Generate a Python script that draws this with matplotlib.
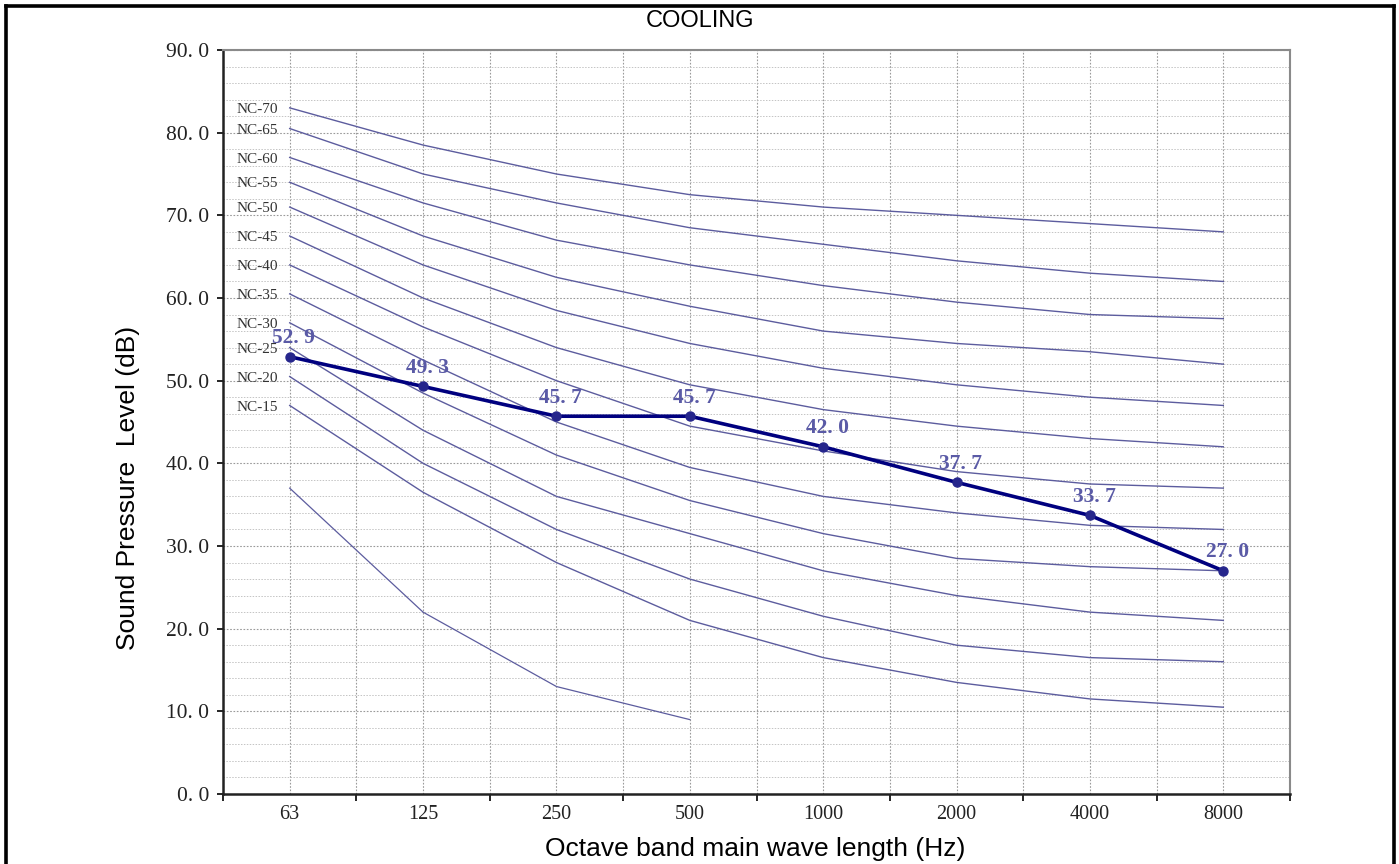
import matplotlib

matplotlib.use("Agg")
import matplotlib.pyplot as plt
import numpy as np
from matplotlib.lines import Line2D
from matplotlib.ticker import MultipleLocator, FixedLocator

# --- data ---------------------------------------------------------------
FREQS = ["63", "125", "250", "500", "1000", "2000", "4000", "8000"]
MEASURED = [52.9, 49.3, 45.7, 45.7, 42.0, 37.7, 33.7, 27.0]

NC_NAMES = ["NC-70", "NC-65", "NC-60", "NC-55", "NC-50", "NC-45",
            "NC-40", "NC-35", "NC-30", "NC-25", "NC-20", "NC-15"]
NC_70 = [83, 78.5, 75, 72.5, 71, 70, 69, 68]
NC_65 = [80.5, 75, 71.5, 68.5, 66.5, 64.5, 63, 62]
NC_60 = [77, 71.5, 67, 64, 61.5, 59.5, 58, 57.5]
NC_55 = [74, 67.5, 62.5, 59, 56, 54.5, 53.5, 52]
NC_50 = [71, 64, 58.5, 54.5, 51.5, 49.5, 48, 47]
NC_45 = [67.5, 60, 54, 49.5, 46.5, 44.5, 43, 42]
NC_40 = [64, 56.5, 50, 44.5, 41.5, 39, 37.5, 37]
NC_35 = [60.5, 52.5, 45, 39.5, 36, 34, 32.5, 32]
NC_30 = [57, 48.5, 41, 35.5, 31.5, 28.5, 27.5, 27]
NC_25 = [54, 44, 36, 31.5, 27, 24, 22, 21]
NC_20 = [50.5, 40, 32, 26, 21.5, 18, 16.5, 16]
NC_15 = [47, 36.5, 28, 21, 16.5, 13.5, 11.5, 10.5]
NC_CURVES = [NC_70, NC_65, NC_60, NC_55, NC_50, NC_45,
             NC_40, NC_35, NC_30, NC_25, NC_20, NC_15]
# unlabeled bottom curve, only drawn up to 500 Hz
NC_LOW = [37, 22, 13, 9]

# --- style --------------------------------------------------------------
NC_COLOR = "#5c5c9e"
DATA_COLOR = "#00007f"
LABEL_COLOR = "#5a5aa6"
GRID_C = "#9a9a9a"
SERIF = ["Liberation Serif", "DejaVu Serif"]
SANS = ["Liberation Sans", "DejaVu Sans"]

fig = plt.figure(figsize=(13.99, 8.64), dpi=100)
fig.patch.set_facecolor("white")
ax = fig.add_axes([223 / 1399, 1 - 794 / 864, (1290 - 223) / 1399, (794 - 50) / 864])

x = np.arange(len(FREQS))

for vals in NC_CURVES:
    ax.plot(x, vals, color=NC_COLOR, lw=1.0, zorder=2)
ax.plot(x[:len(NC_LOW)], NC_LOW, color=NC_COLOR, lw=0.9, zorder=2)

for name, vals in zip(NC_NAMES, NC_CURVES):
    ax.text(-0.09, vals[0] - 0.2, name, ha="right", va="center", fontsize=11,
            color="#333333", family=SERIF, zorder=3)

ax.plot(x, MEASURED, color=DATA_COLOR, lw=2.6, marker="o", ms=6.5,
        mfc="#26268c", mec="#26268c", zorder=4)
for xi, v in zip(x, MEASURED):
    ax.annotate(f"{v:.1f}".replace(".", ". "), (xi, v), xytext=(3, 6),
                textcoords="offset points", ha="center", va="bottom",
                fontsize=15.5, fontweight="bold", color=LABEL_COLOR,
                family=SERIF, zorder=5)

# axes, ticks, grid
ax.set_xlim(-0.5, len(FREQS) - 0.5)
ax.set_ylim(0, 90)
ax.set_xticks(x)
ax.set_xticklabels(FREQS, family=SERIF, fontsize=14.5, color="#222222")
ax.xaxis.set_minor_locator(FixedLocator(np.arange(-0.5, len(FREQS), 1.0)))
ax.yaxis.set_minor_locator(MultipleLocator(2))
yt = np.arange(0, 91, 10)
ax.set_yticks(yt)
ax.set_yticklabels([f"{v:.1f}".replace(".", ". ") for v in yt],
                   family=SERIF, fontsize=15.5, color="#222222")
ax.tick_params(axis="x", which="major", length=0, pad=8)
ax.tick_params(axis="x", which="minor", length=5, width=1.2, direction="out")
ax.tick_params(axis="y", which="major", length=4, width=1.2, direction="out", pad=6)
ax.tick_params(axis="y", which="minor", length=0)

ax.grid(True, which="major", axis="both", color=GRID_C, lw=0.8, ls=(0, (1.5, 1.5)), zorder=0)
ax.grid(True, which="minor", axis="x", color=GRID_C, lw=0.8, ls=(0, (1.5, 1.5)), zorder=0)
ax.grid(True, which="minor", axis="y", color="#c4c4c4", lw=0.7, ls=(0, (1.5, 1.5)), zorder=0)

for side in ("left", "bottom"):
    ax.spines[side].set_color("#222222")
    ax.spines[side].set_linewidth(1.8)
for side in ("top", "right"):
    ax.spines[side].set_color("#8a8a8a")
    ax.spines[side].set_linewidth(1.5)

fig.text(128 / 1399, 1 - 488 / 864, "Sound Pressure  Level (dB)", rotation=90,
         ha="center", va="center", family=SANS, fontsize=19)
fig.text(755 / 1399, 1 - 849 / 864, "Octave band main wave length (Hz)",
         ha="center", va="center", family=SANS, fontsize=19)
fig.text(700 / 1399, 1 - 21 / 864, "COOLING", ha="center", va="center",
         family=SANS, fontsize=17)

# outer frame (bottom edge runs off the image)
fx0, fx1, fy1 = 6 / 1399, 1394 / 1399, 1 - 6 / 864
frame_kw = dict(color="black", lw=2.6, transform=fig.transFigure)
fig.add_artist(Line2D([fx0, fx1], [fy1, fy1], **frame_kw))
fig.add_artist(Line2D([fx0, fx0], [-0.01, fy1], **frame_kw))
fig.add_artist(Line2D([fx1, fx1], [-0.01, fy1], **frame_kw))

fig.savefig("out.png", dpi=100, facecolor="white")
